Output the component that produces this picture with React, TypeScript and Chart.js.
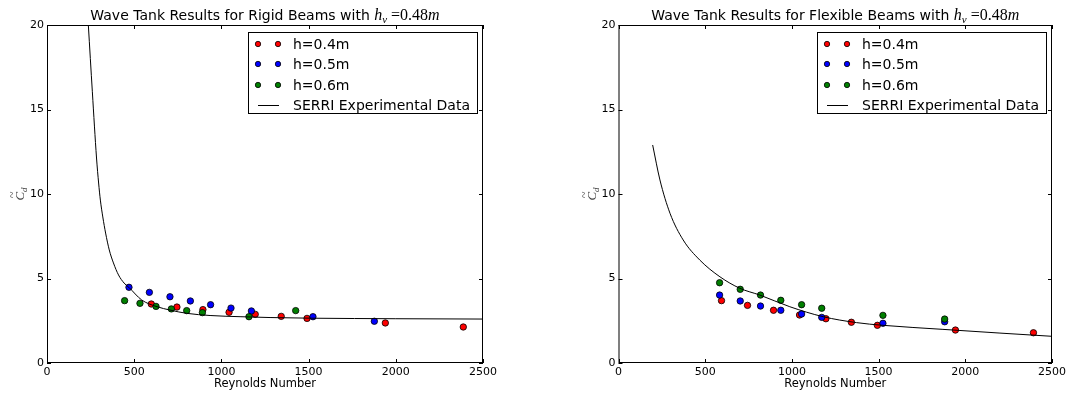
import React, { useEffect, useRef } from "react";
import { Chart, registerables } from "chart.js";

Chart.register(...registerables);

// ---------- data ----------
const reynoldsTicks = [0, 500, 1000, 1500, 2000, 2500];
const cdTicks = [0, 5, 10, 15, 20];
const seriesLabels = ["h=0.4m", "h=0.5m", "h=0.6m", "SERRI Experimental Data"];
const seriesColors = ["#ff0000", "#0000ff", "#007f00"];

// Rigid beams
const rigidRe04 = [598, 745, 894, 1044, 1194, 1343, 1491, 1940, 2387];
const rigidCd04 = [3.49, 3.31, 3.16, 3.0, 2.88, 2.76, 2.64, 2.37, 2.13];
const rigidRe05 = [470, 587, 705, 822, 938, 1055, 1172, 1525, 1877];
const rigidCd05 = [4.48, 4.18, 3.92, 3.67, 3.45, 3.25, 3.08, 2.74, 2.47];
const rigidRe06 = [445, 533, 625, 713, 801, 891, 1158, 1426];
const rigidCd06 = [3.69, 3.53, 3.35, 3.2, 3.1, 2.98, 2.74, 3.1];
const rigidSerriRe = [237, 260, 284, 296, 306, 320, 336, 357, 381, 410, 442, 469, 543, 625, 711, 801, 935, 1107, 1279, 1525, 2000, 2500];
const rigidSerriCd = [20, 16.05, 12.13, 10.65, 9.64, 8.64, 7.69, 6.69, 5.92, 5.21, 4.73, 4.48, 3.73, 3.35, 3.12, 2.94, 2.81, 2.74, 2.69, 2.65, 2.62, 2.6];

// Flexible beams
const flexRe04 = [594, 744, 894, 1044, 1196, 1343, 1493, 1943, 2393];
const flexCd04 = [3.69, 3.41, 3.12, 2.84, 2.62, 2.41, 2.23, 1.95, 1.79];
const flexRe05 = [583, 702, 819, 936, 1056, 1172, 1525, 1881];
const flexCd05 = [4.02, 3.67, 3.37, 3.12, 2.9, 2.7, 2.35, 2.44];
const flexRe06 = [583, 702, 819, 936, 1056, 1172, 1525, 1881];
const flexCd06 = [4.75, 4.36, 4.02, 3.71, 3.45, 3.24, 2.82, 2.6];
const flexSerriRe = [197, 239, 297, 373, 469, 585, 700, 815, 988, 1180, 1372, 1525, 1871, 2200, 2500];
const flexSerriCd = [12.9, 10.83, 8.86, 7.28, 6.09, 5.1, 4.42, 4.02, 3.33, 2.74, 2.39, 2.23, 1.99, 1.77, 1.58];

const rigidTitle = "Wave Tank Results for Rigid Beams with ";
const flexTitle = "Wave Tank Results for Flexible Beams with ";
const xAxisLabel = "Reynolds Number";

// ---------- layout ----------
const W = 536;
const H = 394;
const PLOT_TOP = 25;
const PLOT_BOTTOM = 363;

type PanelCfg = {
  left: number;
  plotLeft: number;
  plotRight: number;
  title: string;
  re: number[][];
  cd: number[][];
  serriRe: number[];
  serriCd: number[];
};

const SANS = '"DejaVu Sans", sans-serif';
const SERIF = '"Liberation Serif", "DejaVu Serif", serif';

function pts(xs: number[], ys: number[]) {
  return xs.map((x, i) => ({ x, y: ys[i] }));
}

function makeChart(canvas: HTMLCanvasElement, p: PanelCfg) {
  const decor = {
    id: "decor",
    afterDraw(chart: any) {
      const ctx = chart.ctx as CanvasRenderingContext2D;
      const xs = chart.scales.x;
      const ys = chart.scales.y;
      const a = chart.chartArea;
      ctx.save();
      // frame
      ctx.strokeStyle = "#000";
      ctx.lineWidth = 1;
      ctx.strokeRect(a.left + 0.5, a.top + 0.5, a.right - a.left - 1, a.bottom - a.top - 1);
      // inward ticks
      ctx.beginPath();
      const tl = 4;
      reynoldsTicks.forEach((v) => {
        const x = Math.round(xs.getPixelForValue(v)) + 0.5;
        ctx.moveTo(x, a.bottom);
        ctx.lineTo(x, a.bottom - tl);
        ctx.moveTo(x, a.top);
        ctx.lineTo(x, a.top + tl);
      });
      cdTicks.forEach((v) => {
        const y = Math.round(ys.getPixelForValue(v)) + 0.5;
        ctx.moveTo(a.left, y);
        ctx.lineTo(a.left + tl, y);
        ctx.moveTo(a.right, y);
        ctx.lineTo(a.right - tl, y);
      });
      ctx.stroke();

      // title
      const cx = (a.left + a.right) / 2;
      const pieces = [
        { t: p.title, f: `14px ${SANS}`, dy: 0 },
        { t: "h", f: `italic 16px ${SERIF}`, dy: 0 },
        { t: "v", f: `italic 11px ${SERIF}`, dy: 3 },
        { t: " =0.48", f: `16px ${SERIF}`, dy: 0 },
        { t: "m", f: `italic 16px ${SERIF}`, dy: 0 },
      ];
      let total = 0;
      const widths = pieces.map((pc) => {
        ctx.font = pc.f;
        const w = ctx.measureText(pc.t).width;
        total += w;
        return w;
      });
      let tx = cx - total / 2;
      ctx.fillStyle = "#000";
      ctx.textBaseline = "alphabetic";
      ctx.textAlign = "left";
      pieces.forEach((pc, i) => {
        ctx.font = pc.f;
        ctx.fillText(pc.t, tx, 20 + pc.dy);
        tx += widths[i];
      });

      // x axis label
      ctx.font = `11.5px ${SANS}`;
      ctx.textAlign = "center";
      ctx.fillText(xAxisLabel, cx, 387);

      // y axis label (rotated)
      ctx.save();
      ctx.translate(a.left - 23, (a.top + a.bottom) / 2);
      ctx.rotate(-Math.PI / 2);
      ctx.fillStyle = "#444";
      ctx.font = `italic 13px ${SERIF}`;
      ctx.textAlign = "left";
      const cw = ctx.measureText("C").width;
      ctx.font = `italic 9px ${SERIF}`;
      const dw = ctx.measureText("d").width;
      const sx = -(cw + dw) / 2;
      ctx.font = `italic 13px ${SERIF}`;
      ctx.fillText("C", sx, 0);
      ctx.font = `12px ${SERIF}`;
      ctx.fillText("~", sx + 2.5, -8);
      ctx.font = `italic 9px ${SERIF}`;
      ctx.fillText("d", sx + cw, 3);
      ctx.restore();

      // legend
      const lx = a.right - 235;
      const ly = 32;
      const lw = 229;
      const lh = 81;
      ctx.fillStyle = "#fff";
      ctx.fillRect(lx, ly, lw, lh);
      ctx.strokeStyle = "#000";
      ctx.lineWidth = 1;
      ctx.strokeRect(lx + 0.5, ly + 0.5, lw, lh);
      const rows = [44, 64, 85, 105];
      ctx.font = `14px ${SANS}`;
      ctx.textAlign = "left";
      ctx.textBaseline = "middle";
      rows.forEach((ry, i) => {
        if (i < 3) {
          [lx + 10, lx + 30].forEach((mx) => {
            ctx.beginPath();
            ctx.arc(mx, ry, 2.7, 0, Math.PI * 2);
            ctx.fillStyle = seriesColors[i];
            ctx.fill();
            ctx.lineWidth = 0.8;
            ctx.strokeStyle = "#000";
            ctx.stroke();
          });
        } else {
          ctx.beginPath();
          ctx.moveTo(lx + 10, ry + 0.5);
          ctx.lineTo(lx + 31, ry + 0.5);
          ctx.lineWidth = 1;
          ctx.strokeStyle = "#000";
          ctx.stroke();
        }
        ctx.fillStyle = "#000";
        ctx.fillText(seriesLabels[i], lx + 45, ry + 1);
      });
      ctx.restore();
    },
  };

  const scatterSets = [0, 1, 2].map((i) => ({
    label: seriesLabels[i],
    data: pts(p.re[i], p.cd[i]),
    backgroundColor: seriesColors[i],
    borderColor: "#000",
    borderWidth: 0.8,
    pointRadius: 3.2,
    pointHoverRadius: 3.2,
    showLine: false,
    order: 3 - i,
  }));

  const tickFont = { family: '"DejaVu Sans", sans-serif', size: 11 };

  return new Chart(canvas, {
    type: "scatter",
    data: {
      datasets: [
        ...scatterSets,
        {
          label: seriesLabels[3],
          data: pts(p.serriRe, p.serriCd),
          borderColor: "#000",
          backgroundColor: "#000",
          borderWidth: 1,
          pointRadius: 0,
          showLine: true,
          cubicInterpolationMode: "monotone",
          order: 0,
        } as any,
      ],
    },
    options: {
      responsive: false,
      animation: false,
      devicePixelRatio: 1,
      layout: { padding: { left: 0, top: PLOT_TOP, right: W - p.plotRight, bottom: 0 } },
      plugins: { legend: { display: false }, title: { display: false }, tooltip: { enabled: false } },
      scales: {
        x: {
          type: "linear",
          min: 0,
          max: 2500,
          afterBuildTicks: (s: any) => {
            s.ticks = reynoldsTicks.map((v) => ({ value: v }));
          },
          afterFit: (s: any) => {
            s.height = H - PLOT_BOTTOM;
          },
          grid: { display: false, drawTicks: false, tickLength: 0 },
          border: { display: false },
          ticks: {
            color: "#000",
            font: tickFont,
            padding: 3,
            maxRotation: 0,
            autoSkip: false,
            callback: (v: any) => String(v),
          },
        },
        y: {
          type: "linear",
          min: 0,
          max: 20,
          afterBuildTicks: (s: any) => {
            s.ticks = cdTicks.map((v) => ({ value: v }));
          },
          afterFit: (s: any) => {
            s.width = p.plotLeft;
          },
          grid: { display: false, drawTicks: false, tickLength: 0 },
          border: { display: false },
          ticks: { color: "#000", font: tickFont, padding: 3, autoSkip: false, callback: (v: any) => String(v) },
        },
      },
    } as any,
    plugins: [decor],
  });
}

function Panel({ cfg }: { cfg: PanelCfg }) {
  const ref = useRef<HTMLCanvasElement>(null);
  useEffect(() => {
    if (!ref.current) return;
    const c = makeChart(ref.current, cfg);
    return () => c.destroy();
  }, [cfg]);
  return (
    <canvas
      ref={ref}
      width={W}
      height={H}
      style={{ position: "absolute", left: cfg.left, top: 0, width: W, height: H }}
    />
  );
}

const rigidCfg: PanelCfg = {
  left: 0,
  plotLeft: 47,
  plotRight: 483,
  title: rigidTitle,
  re: [rigidRe04, rigidRe05, rigidRe06],
  cd: [rigidCd04, rigidCd05, rigidCd06],
  serriRe: rigidSerriRe,
  serriCd: rigidSerriCd,
};

const flexCfg: PanelCfg = {
  left: 536,
  plotLeft: 82.5,
  plotRight: 516,
  title: flexTitle,
  re: [flexRe04, flexRe05, flexRe06],
  cd: [flexCd04, flexCd05, flexCd06],
  serriRe: flexSerriRe,
  serriCd: flexSerriCd,
};

export default function App() {
  return (
    <div style={{ position: "absolute", left: 0, top: 0, width: 1072, height: 394, background: "#fff" }}>
      <Panel cfg={rigidCfg} />
      <Panel cfg={flexCfg} />
    </div>
  );
}
